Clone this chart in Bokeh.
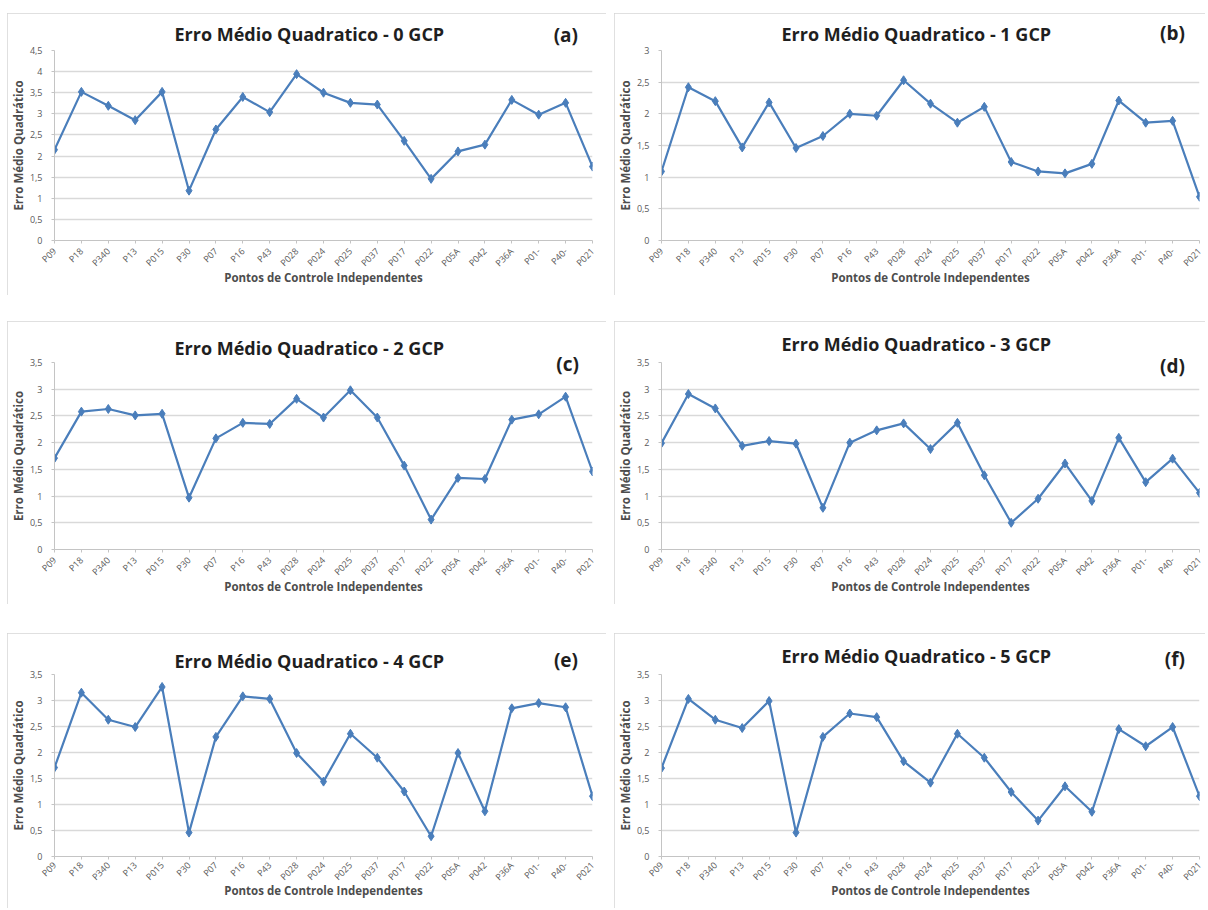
import math
from bokeh.plotting import figure
from bokeh.models import FixedTicker, CustomJSTickFormatter, Spacer, ColumnDataSource, Title
from bokeh.layouts import row, column
from bokeh.embed import file_html
from bokeh.resources import INLINE

categories = ["P09", "P18", "P340", "P13", "P015", "P30", "P07", "P16", "P43", "P028",
              "P024", "P025", "P037", "P017", "P022", "P05A", "P042", "P36A", "P01-", "P40-", "P021"]

gcp0 = [2.15, 3.52, 3.19, 2.85, 3.52, 1.18, 2.63, 3.40, 3.04, 3.94, 3.50,
        3.26, 3.22, 2.36, 1.46, 2.11, 2.27, 3.33, 2.98, 3.26, 1.75]
gcp1 = [1.09, 2.42, 2.20, 1.47, 2.18, 1.46, 1.65, 2.00, 1.97, 2.53, 2.16,
        1.86, 2.11, 1.24, 1.09, 1.06, 1.21, 2.21, 1.86, 1.89, 0.69]
gcp2 = [1.71, 2.58, 2.63, 2.51, 2.54, 0.97, 2.08, 2.37, 2.35, 2.82, 2.47,
        2.98, 2.47, 1.57, 0.56, 1.34, 1.32, 2.43, 2.53, 2.86, 1.46]
gcp3 = [1.99, 2.91, 2.64, 1.94, 2.03, 1.98, 0.78, 2.00, 2.23, 2.36, 1.88,
        2.37, 1.39, 0.50, 0.95, 1.61, 0.91, 2.09, 1.26, 1.70, 1.06]
gcp4 = [1.71, 3.15, 2.63, 2.49, 3.26, 0.46, 2.30, 3.08, 3.03, 1.99, 1.44,
        2.36, 1.90, 1.25, 0.39, 1.99, 0.87, 2.85, 2.95, 2.87, 1.16]
gcp5 = [1.70, 3.03, 2.63, 2.47, 2.99, 0.46, 2.30, 2.75, 2.68, 1.83, 1.42,
        2.36, 1.90, 1.24, 0.69, 1.35, 0.86, 2.45, 2.12, 2.49, 1.16]

titles = ["Erro Médio Quadratico - %d GCP" % i for i in range(6)]
tags = ["(a)", "(b)", "(c)", "(d)", "(e)", "(f)"]
y_max = [4.5, 3.0, 3.5, 3.5, 3.5, 3.5]
y_title = "Erro Médio Quadrático"
x_title = "Pontos de Controle Independentes"

LINE = "#4A7EBB"
FONT = "Open Sans"
TXT = "#4d4d4d"
H_TITLE = 24   # approx. text box height of the 18px title


def make_panel(k, vals, ymax, width, height, bl, br, bt, bb, title_dy, tag_dx, tag_dy,
               lbl_standoff=6, xlab_standoff=-7):
    """title_dy / tag_dy: distance (px) of the text centre above the frame top (negative = below)."""
    fw = width - bl - br
    n = len(categories) - 1
    p = figure(width=width, height=height, x_range=(0, n), y_range=(0, ymax),
               output_backend="svg", toolbar_location=None,
               min_border_left=bl, min_border_right=br,
               min_border_top=bt, min_border_bottom=bb)
    p.title.visible = False
    p.outline_line_color = None
    p.background_fill_color = "white"
    p.border_fill_color = "white"
    p.styles = {"outline": "1px solid #d6d6d6", "outline-offset": "-1px"}

    src = ColumnDataSource(dict(x=list(range(len(categories))), y=vals))
    p.line("x", "y", source=src, line_color=LINE, line_width=2.2)
    p.scatter("x", "y", source=src, marker="diamond", size=9,
              fill_color=LINE, line_color=LINE)

    xa = p.xaxis[0]
    xa.ticker = FixedTicker(ticks=list(range(len(categories))))
    xa.major_label_overrides = {i: c for i, c in enumerate(categories)}
    xa.major_label_orientation = math.pi / 4
    xa.major_label_text_font = FONT
    xa.major_label_text_font_size = "9px"
    xa.major_label_text_color = "#595959"
    xa.major_label_standoff = lbl_standoff
    xa.axis_line_color = "#c4c4c4"
    xa.major_tick_line_color = "#c4c4c4"
    xa.major_tick_out = 3
    xa.major_tick_in = 0
    xa.minor_tick_line_color = None
    xa.axis_label = x_title
    xa.axis_label_text_font = FONT
    xa.axis_label_text_font_style = "bold"
    xa.axis_label_text_font_size = "11.5px"
    xa.axis_label_text_color = TXT
    xa.axis_label_standoff = xlab_standoff

    ya = p.yaxis[0]
    steps = int(round(ymax / 0.5))
    ya.ticker = FixedTicker(ticks=[0.5 * i for i in range(steps + 1)])
    ya.formatter = CustomJSTickFormatter(code="return tick.toString().replace('.', ',');")
    ya.major_label_text_font = FONT
    ya.major_label_text_font_size = "9px"
    ya.major_label_text_color = "#595959"
    ya.major_label_standoff = 9
    ya.axis_line_color = "#c4c4c4"
    ya.major_tick_line_color = "#c4c4c4"
    ya.major_tick_out = 3
    ya.major_tick_in = 0
    ya.minor_tick_line_color = None
    ya.axis_label = y_title
    ya.axis_label_text_font = FONT
    ya.axis_label_text_font_style = "bold"
    ya.axis_label_text_font_size = "11.5px"
    ya.axis_label_text_color = TXT
    ya.axis_label_standoff = 1

    p.xgrid.grid_line_color = None
    p.ygrid.grid_line_color = "#d9d9d9"
    p.ygrid.grid_line_width = 1.5

    # main title: panel directly on top of the frame, bottom-aligned text
    s_m = 2 * (title_dy - 10)
    t1 = Title(text=titles[k], align="left", offset=120, vertical_align="bottom",
               standoff=s_m, text_font=FONT, text_font_style="bold",
               text_font_size="18px", text_color="#1f1f1f")
    p.add_layout(t1, "above")
    h_m = max(0, 2 + H_TITLE + s_m)

    # panel tag, stacked above the title panel, pushed down with a negative standoff
    s_t = 2 * (tag_dy - h_m - 12.5)
    t2 = Title(text=tags[k], align="right", offset=fw - tag_dx - 12.5, vertical_align="bottom",
               standoff=s_t, text_font=FONT, text_font_style="bold",
               text_font_size="19px", text_color="#1f1f1f",
               background_fill_color="white")
    p.add_layout(t2, "above")
    return p


LW, RW = 599, 591
# per row: figure height, top border, bottom border, x-label standoff, x-title standoff
rows = [
    (282, 37, 55, 6, -7),
    (283, 41, 55, 6, -7),
    (275, 41, 52, 4, -8),
]

# values, ymax, left?, title_dy, tag_dx (from frame left), tag_dy
specs = [
    (gcp0, 4.5, True, 15, 511, 15),
    (gcp1, 3.0, False, 15, 511, 17),
    (gcp2, 3.5, True, 13, 512, -2),
    (gcp3, 3.5, False, 17, 511, -4),
    (gcp4, 3.5, True, 12, 511, 14),
    (gcp5, 3.5, False, 17, 511, 15),
]

figs = []
for k, (vals, ymax, is_left, tdy, gdx, gdy) in enumerate(specs):
    h, bt, bb, ls, xs = rows[k // 2]
    if is_left:
        f = make_panel(k, vals, ymax, LW, h, 47, 14, bt, bb, tdy, gdx, gdy, ls, xs)
    else:
        f = make_panel(k, vals, ymax, RW, h, 47, 6, bt, bb, tdy, gdx, gdy, ls, xs)
    figs.append(f)

layout = column(
    Spacer(height=13),
    row(Spacer(width=7), figs[0], Spacer(width=8), figs[1]),
    Spacer(height=26),
    row(Spacer(width=7), figs[2], Spacer(width=8), figs[3]),
    Spacer(height=29),
    row(Spacer(width=7), figs[4], Spacer(width=8), figs[5]),
)

open("out.html", "w").write(file_html(layout, INLINE))
